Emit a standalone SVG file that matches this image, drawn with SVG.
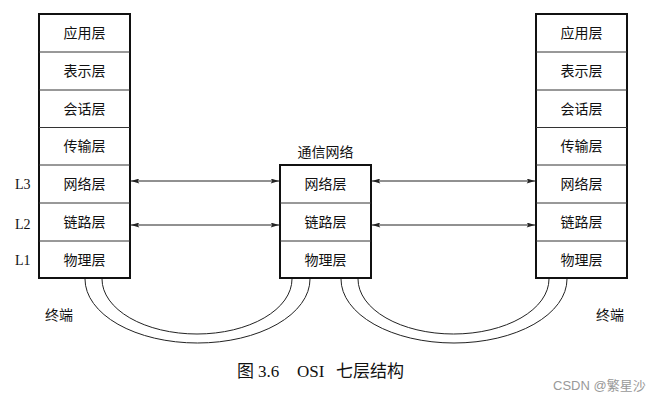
<svg xmlns="http://www.w3.org/2000/svg" width="668" height="400" viewBox="0 0 668 400">
<style>
.box{fill:#fff;stroke:#111;stroke-width:2}
.div{stroke:#333;stroke-width:1}
.t{font-family:"Liberation Serif","Noto Sans CJK SC",serif;font-size:14px;fill:#111;text-anchor:middle;dominant-baseline:central}
.lab{font-family:"Liberation Serif","Noto Sans CJK SC",serif;font-size:14px;fill:#111;dominant-baseline:central}
.con{stroke:#222;stroke-width:1;fill:none}
.cap{font-family:"Liberation Serif","Noto Sans CJK SC",serif;font-size:17px;fill:#111}
</style>
<defs>
<marker id="ah" viewBox="0 0 10 6" refX="10" refY="3" markerWidth="9" markerHeight="5" orient="auto-start-reverse" markerUnits="userSpaceOnUse">
<path d="M0,0 L10,3 L0,6 L2,3 Z" fill="#222"/>
</marker>
</defs>
<rect width="668" height="400" fill="#fff"/>
<g id="left-stack">
<rect class="box" x="39" y="14" width="91" height="264"/>
<line class="div" x1="39" y1="52" x2="130" y2="52"/>
<line class="div" x1="39" y1="90" x2="130" y2="90"/>
<line class="div" x1="39" y1="127.5" x2="130" y2="127.5"/>
<line class="div" x1="39" y1="165" x2="130" y2="165"/>
<line class="div" x1="39" y1="203" x2="130" y2="203"/>
<line class="div" x1="39" y1="241" x2="130" y2="241"/>
<text class="t" x="84.5" y="33">应用层</text>
<text class="t" x="84.5" y="71">表示层</text>
<text class="t" x="84.5" y="109">会话层</text>
<text class="t" x="84.5" y="146">传输层</text>
<text class="t" x="84.5" y="184">网络层</text>
<text class="t" x="84.5" y="222">链路层</text>
<text class="t" x="84.5" y="260">物理层</text>
</g>
<g id="right-stack">
<rect class="box" x="536" y="14" width="91" height="264"/>
<line class="div" x1="536" y1="52" x2="627" y2="52"/>
<line class="div" x1="536" y1="90" x2="627" y2="90"/>
<line class="div" x1="536" y1="127.5" x2="627" y2="127.5"/>
<line class="div" x1="536" y1="165" x2="627" y2="165"/>
<line class="div" x1="536" y1="203" x2="627" y2="203"/>
<line class="div" x1="536" y1="241" x2="627" y2="241"/>
<text class="t" x="581.5" y="33">应用层</text>
<text class="t" x="581.5" y="71">表示层</text>
<text class="t" x="581.5" y="109">会话层</text>
<text class="t" x="581.5" y="146">传输层</text>
<text class="t" x="581.5" y="184">网络层</text>
<text class="t" x="581.5" y="222">链路层</text>
<text class="t" x="581.5" y="260">物理层</text>
</g>
<g id="network">
<text class="t" x="325.5" y="152">通信网络</text>
<rect class="box" x="280" y="165" width="91" height="113"/>
<line class="div" x1="280" y1="203" x2="371" y2="203"/>
<line class="div" x1="280" y1="241" x2="371" y2="241"/>
<text class="t" x="325.5" y="184">网络层</text>
<text class="t" x="325.5" y="222">链路层</text>
<text class="t" x="325.5" y="260">物理层</text>
</g>
<g id="labels">
<text class="lab" x="15" y="184">L3</text>
<text class="lab" x="15" y="224">L2</text>
<text class="lab" x="15" y="260">L1</text>
<text class="lab" x="45" y="315">终端</text>
<text class="lab" x="596" y="315">终端</text>
</g>
<g id="connectors">
<line class="con" x1="131" y1="181" x2="279" y2="181" marker-start="url(#ah)" marker-end="url(#ah)"/>
<line class="con" x1="131" y1="225" x2="279" y2="225" marker-start="url(#ah)" marker-end="url(#ah)"/>
<line class="con" x1="372" y1="181" x2="535" y2="181" marker-start="url(#ah)" marker-end="url(#ah)"/>
<line class="con" x1="372" y1="225" x2="535" y2="225" marker-start="url(#ah)" marker-end="url(#ah)"/>
<path class="con" d="M85,279 A112.5,64 0 0 0 310,279"/>
<path class="con" d="M102,279 A95,55 0 0 0 292,279"/>
<path class="con" d="M341,279 A113,64 0 0 0 567,279"/>
<path class="con" d="M358,279 A95.5,55 0 0 0 549,279"/>
</g>
<g id="caption">
<text class="cap" y="377"><tspan x="237">图</tspan><tspan x="258">3.6</tspan><tspan x="297">OSI</tspan><tspan x="336">七层结构</tspan></text>
<text x="553" y="390" font-family="'Liberation Sans','Noto Sans CJK SC',sans-serif" font-size="13" fill="#999">CSDN @繁星沙</text>
</g>
</svg>
